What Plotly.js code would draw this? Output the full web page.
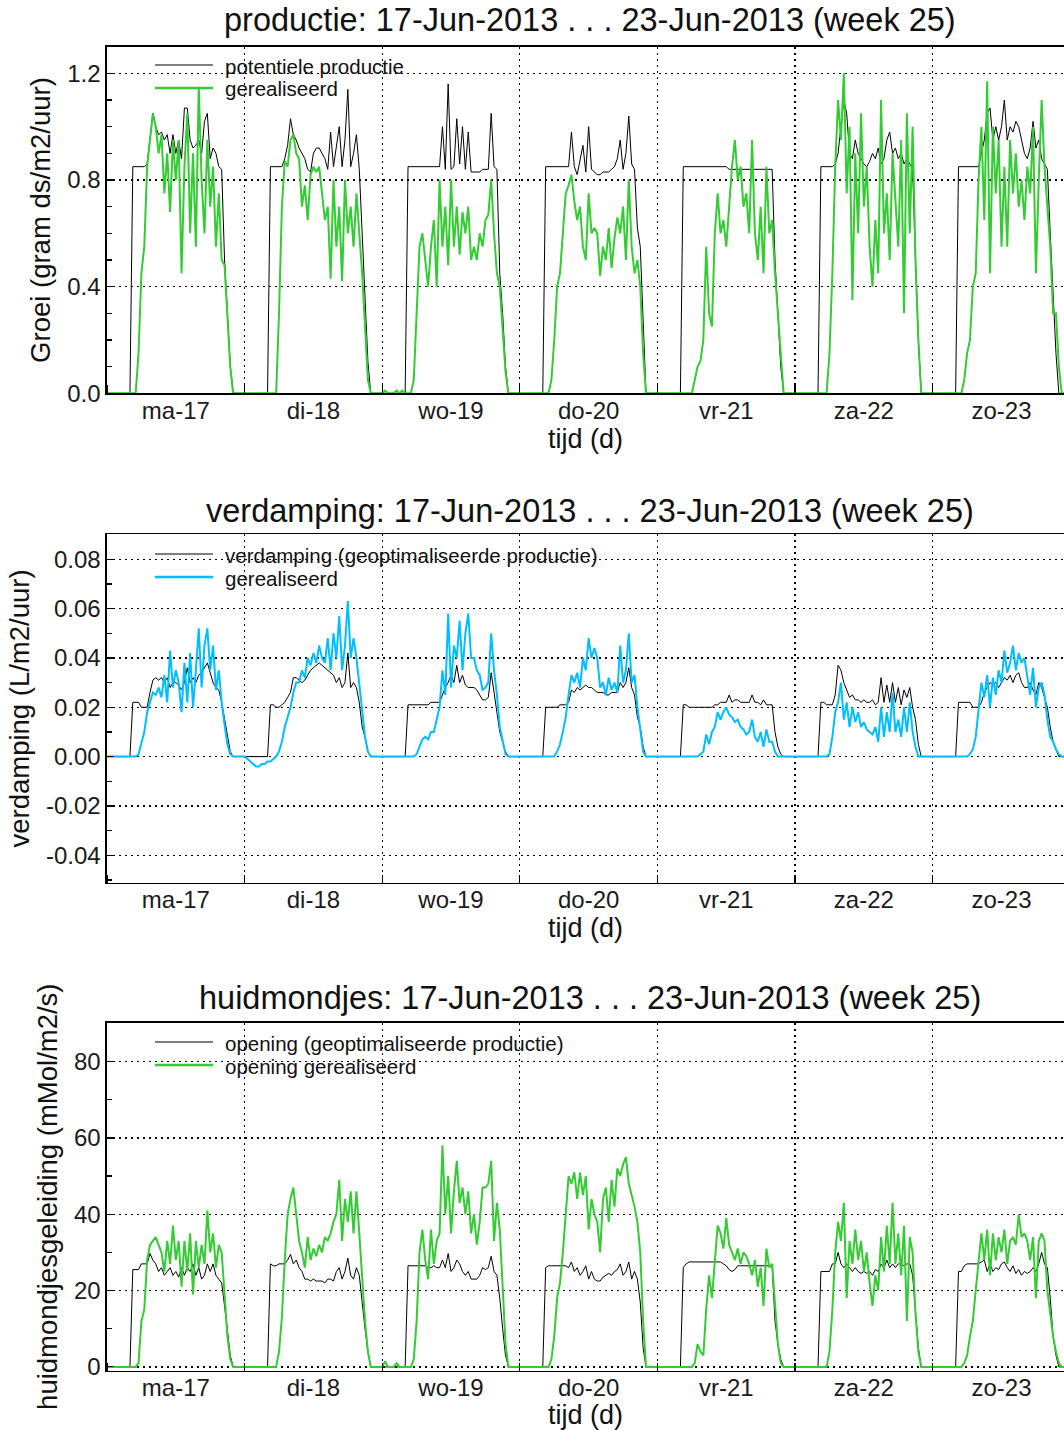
<!DOCTYPE html>
<html><head><meta charset="utf-8">
<script src="https://cdn.plot.ly/plotly-3.0.1.min.js"></script>
<style>html,body{margin:0;padding:0;background:#fff;overflow:hidden}#chart{width:1064px;height:1430px}</style>
</head><body><div id="chart"></div>
<script>
// Day labels (tick text at noon of each day) and their positions in hours
const dayLabels = ['ma-17','di-18','wo-19','do-20','vr-21','za-22','zo-23'];
const dayCentres = [12, 36, 60, 84, 108, 132, 156];

// Half-hourly values, 17-Jun-2013 00:00 ... 24-Jun-2013 00:00 (one line per day)
const groeiPotentieel = [
0,0,0,0,0,0,0,0,0,.85,.85,.85,.85,.85,.86,.95,1.05,1.0,.97,.98,.95,.97,.9,.97,.9,.95,.88,1.07,1.07,.95,.92,.93,.95,.9,1.02,1.05,.88,.92,.9,.85,.84,.5,.3,.1,0,0,0,0,
0,0,0,0,0,0,0,0,0,.85,.85,.85,.85,.85,.88,.93,1.03,.97,.95,.92,.9,.88,.84,.83,.9,.92,.92,.9,.88,.84,.98,.85,.92,1.0,.85,.95,1.14,.85,.9,.97,.84,.6,.35,.12,0,0,0,0,
0,0,0,0,0,0,0,0,0,.85,.85,.85,.85,.85,.85,.85,.85,.85,.85,.85,.85,1.0,.84,1.16,.84,.85,1.03,.86,1.0,.84,.98,.83,.83,.83,.83,.84,.84,.84,1.05,.85,.84,.45,.3,.1,0,0,0,0,
0,0,0,0,0,0,0,0,0,.85,.85,.85,.85,.85,.85,.85,.85,.85,.98,.85,.82,.88,.93,.83,1.0,.84,.83,.82,.82,.83,.83,.83,.84,.85,.88,.95,.84,.9,1.04,.86,.84,.62,.55,.3,0,0,0,0,
0,0,0,0,0,0,0,0,0,.85,.85,.85,.85,.85,.85,.85,.85,.85,.85,.85,.85,.85,.85,.85,.85,.84,.84,.84,.84,.84,.84,.84,.84,.84,.84,.84,.84,.84,.84,.84,.84,.5,.3,.1,0,0,0,0,
0,0,0,0,0,0,0,0,0,.85,.85,.85,.85,.85,.86,.9,1.0,1.1,1.05,.9,.88,.95,.9,.88,.86,.85,.87,.9,.88,.92,.86,.88,.95,.98,.9,.92,.88,.9,.86,.88,.86,.84,.5,.2,0,0,0,0,
0,0,0,0,0,0,0,0,0,.85,.85,.85,.85,.85,.85,.85,.85,.9,.95,1.05,1.07,.95,1.0,.95,1.0,1.1,.95,1.0,.98,1.02,1.0,.95,.9,.88,.92,1.02,.92,.95,.88,.86,.84,.6,.35,.15,0,0,0,0,
0];
const groeiGerealiseerd = [
0,0,0,0,0,0,0,0,0,0,0,.15,.45,.55,.85,.95,1.05,1.0,.9,.97,.75,.9,.68,.95,.8,.95,.45,.85,1.05,.6,.9,.55,1.15,.8,.6,.95,.7,.85,.55,.75,.5,.48,.3,.1,0,0,0,0,
0,0,0,0,0,0,0,0,0,0,0,0,.3,.7,.87,.85,.95,.97,.9,.88,.7,.78,.65,.82,.85,.83,.85,.75,.65,.7,.43,.8,.55,.7,.42,.8,.6,.7,.55,.75,.6,.45,.25,.05,0,0,0,0,
0,.01,0,0,0,.01,0,.01,0,0,0,.05,.3,.55,.6,.5,.4,.55,.65,.4,.8,.55,.7,.48,.8,.55,.7,.52,.68,.6,.7,.5,.55,.5,.6,.55,.65,.67,.8,.6,.45,.4,.25,.08,0,0,0,0,
0,0,0,0,0,0,0,0,0,0,0,.05,.2,.4,.45,.6,.75,.78,.82,.72,.65,.7,.55,.5,.75,.6,.62,.6,.44,.55,.5,.62,.47,.58,.66,.6,.7,.5,.8,.55,.45,.5,.4,.15,0,0,0,0,
0,0,0,0,0,0,0,0,0,0,0,0,0,.05,.1,.12,.2,.55,.3,.25,.6,.75,.6,.65,.55,.7,.85,.95,.8,.85,.7,.75,.6,.95,.6,.5,.7,.45,.85,.6,.65,.45,.3,.15,0,0,0,0,
0,0,0,0,0,0,0,0,0,0,0,0,.15,.45,.85,1.1,.95,1.2,.75,1.0,.35,.9,.6,1.05,.7,.85,.55,.4,.65,.45,1.1,.6,.75,.5,.9,.7,.55,.95,.3,1.05,.6,1.0,.5,.2,0,0,0,0,
0,0,0,0,0,0,0,0,0,0,0,.05,.15,.2,.4,.45,.8,1.0,.65,1.17,.45,1.0,.75,.95,.55,.85,.55,.95,.75,.9,.7,.8,.65,.85,.75,1.0,.45,.8,1.1,.85,.7,.55,.3,.3,.1,0,0,0,
0];
const verdampingOptimaal = [
0,0,0,0,0,0,0,0,0,.022,.022,.022,.02,.02,.02,.026,.031,.032,.031,.032,.03,.032,.028,.03,.03,.029,.027,.03,.036,.03,.032,.03,.033,.034,.036,.038,.034,.03,.028,.027,.022,.015,.008,.002,0,0,0,0,
0,0,0,0,0,0,0,0,0,.021,.021,.02,.02,.021,.022,.024,.026,.032,.032,.031,.03,.031,.033,.035,.036,.037,.038,.037,.036,.035,.034,.033,.03,.032,.028,.03,.042,.028,.03,.028,.022,.012,.008,.002,0,0,0,0,
0,0,0,0,0,0,0,0,0,.021,.021,.021,.021,.021,.021,.021,.021,.022,.022,.022,.022,.025,.028,.03,.033,.03,.037,.03,.033,.029,.028,.028,.028,.027,.025,.023,.023,.024,.034,.026,.018,.01,.006,.002,0,0,0,0,
0,0,0,0,0,0,0,0,0,.02,.02,.02,.02,.02,.021,.021,.021,.022,.027,.026,.028,.027,.028,.029,.028,.028,.027,.026,.026,.026,.025,.025,.026,.026,.026,.03,.028,.03,.036,.028,.025,.016,.012,.004,0,0,0,0,
0,0,0,0,0,0,0,0,0,.021,.021,.02,.02,.02,.02,.02,.02,.02,.02,.02,.021,.021,.022,.022,.022,.025,.022,.023,.023,.022,.022,.022,.022,.025,.022,.022,.021,.023,.021,.021,.021,.01,.004,.001,0,0,0,0,
0,0,0,0,0,0,0,0,0,.022,.022,.021,.021,.021,.025,.037,.035,.03,.027,.024,.025,.023,.023,.022,.023,.022,.022,.023,.021,.022,.032,.022,.029,.022,.03,.022,.028,.021,.027,.024,.028,.02,.015,.005,0,0,0,0,
0,0,0,0,0,0,0,0,0,.022,.022,.022,.022,.022,.02,.02,.02,.022,.026,.028,.03,.029,.03,.028,.03,.032,.031,.033,.03,.033,.034,.03,.028,.028,.03,.027,.025,.03,.028,.024,.02,.012,.006,.003,0,0,0,0,
0];
const verdampingGerealiseerd = [
0,0,0,0,0,0,0,0,0,0,0,.001,.005,.01,.018,.022,.026,.025,.028,.024,.033,.022,.043,.028,.035,.03,.018,.038,.022,.042,.02,.035,.052,.028,.045,.052,.035,.045,.027,.035,.022,.013,.005,.001,0,0,0,0,
0,-.001,-.002,-.003,-.004,-.004,-.003,-.003,-.002,-.002,-.001,0,.002,.006,.012,.016,.02,.026,.03,.03,.035,.032,.04,.037,.042,.038,.045,.04,.038,.048,.035,.05,.04,.057,.035,.045,.063,.04,.048,.04,.03,.018,.008,.002,0,0,0,0,
0,0,0,0,0,0,0,0,0,0,0,0,.001,.004,.007,.008,.007,.01,.01,.015,.02,.035,.025,.058,.028,.045,.04,.055,.035,.05,.058,.04,.04,.035,.033,.027,.028,.03,.05,.035,.025,.012,.006,.001,0,0,0,0,
0,0,0,0,0,0,0,0,0,0,0,0,0,.002,.005,.01,.016,.025,.033,.03,.034,.028,.04,.035,.048,.04,.044,.04,.028,.03,.025,.032,.027,.03,.026,.045,.03,.035,.05,.03,.033,.02,.012,.002,0,0,0,0,
0,0,0,0,0,0,0,0,0,0,0,0,0,0,0,.001,.002,.009,.005,.01,.012,.018,.015,.018,.02,.017,.016,.014,.015,.012,.011,.009,.01,.015,.008,.006,.01,.004,.011,.006,.006,.002,0,0,0,0,0,0,
0,0,0,0,0,0,0,0,0,0,0,0,.001,.008,.018,.022,.03,.015,.022,.012,.02,.014,.018,.012,.014,.011,.01,.009,.012,.006,.02,.008,.018,.01,.026,.01,.015,.008,.02,.01,.022,.01,.004,0,0,0,0,0,
0,0,0,0,0,0,0,0,0,0,0,0,0,.001,.003,.008,.02,.03,.024,.033,.02,.032,.025,.035,.03,.043,.034,.038,.045,.035,.042,.038,.04,.032,.025,.036,.02,.028,.03,.025,.015,.008,.006,.003,.001,0,0,0,
0];
const geleidingOptimaal = [
0,0,0,0,0,0,0,0,0,25.5,25.5,25.5,27,27,27,29.7,28,27,25,26,24,25,26,24,25,23.5,26,24,26,25,27,24,26,23,24,27,25,27,24,23,22,16,9,3,0,0,0,0,
0,0,0,0,0,0,0,0,0,27,26.5,26.5,27,27,27,28,29.5,27,28,26,25,23,23,22.5,23,22.5,22.5,22.5,22,23,23,22.5,25,26,23,25,28.5,24,23,26,24,16,10,4,0,0,0,0,
0,0,0,0,0,0,0,0,0,26.5,26.5,26.5,26.5,26.5,26.5,26.5,26,26,26.5,26,26,28,26,29.7,25,26,28,27,25,24,25,23,23,23,24,26,25.5,26,29,25,24,18,10,3,0,0,0,0,
0,0,0,0,0,0,0,0,0,26,26.5,26.5,26.5,26.5,26.5,26.5,26.5,26,27.5,25,26,24,25,26.5,23,25,23,22.5,22.5,23.5,24,24.5,24,25,25.5,27,24,25,27.5,23,25,23,17,5,0,0,0,0,
0,0,0,0,0,0,0,0,0,26,27,27.5,27.5,27.5,27.5,27.5,27.5,27.5,27.5,27.5,27.5,27.5,27.5,27,26.5,25.5,25,25.5,26.5,26.5,26.5,26.5,26.5,26.5,26.5,26.5,26.5,26.5,26.5,26.5,26.5,12,6,2,0,0,0,0,
0,0,0,0,0,0,0,0,0,25,25,25,25,27,27,30,27,26,27,26,25,26,25,24.5,25,24.5,25,24,25.5,25,27,26,28,26,27,26,27,27,26.5,27,27,24,15,5,0,0,0,0,
0,0,0,0,0,0,0,0,0,25,25,26.5,27,27,27,27,27,27.5,28,25,27,25,26,25.5,27,27.5,26,25,26.5,24.5,25.5,24,25,24.5,25,26,25,27,30,27,26,18,8,3,0,0,0,0,
0];
const geleidingGerealiseerd = [
0,0,0,0,0,0,0,0,0,0,0,1,12,15,28,32,33,34,32,30,25,33,27,37,28,33,21,33,25,35,19,33,26,32,27,41,30,35,26,32,30,18,8,2,0,0,0,0,
0,0,0,0,0,0,0,0,0,0,0,0,4,13,28,40,44,47,40,33,30,26,34,28,31,29,32,30,34,33,35,38,40,49,33,44,38,46,35,46,35,23,12,4,0,0,0,0,
0,1.5,0,0,0,1,0,0,0,0,0,2,12,30,36,28,23,36,27,33,35,58,40,50,35,46,54,43,47,40,46,35,40,32,38,47,47,48,54,33,43,36,20,6,0,0,0,0,
0,0,0,0,0,0,0,0,0,0,0,2,8,18,22,30,40,50,48,51,44,51,45,50,36,44,40,38,30,44,47,38,49,42,52,50,53,55,48,45,42,38,30,12,0,0,0,0,
0,0,0,0,0,0,0,0,0,0,0,0,0,1,6,4,3,15,24,18,28,37,35,31,39,32,30,28,31,27,30,29,27,24,28,21,26,16,31,26,27,15,6,1,0,0,0,0,
0,0,0,0,0,0,0,0,0,0,0,0,4,15,30,38,33,43,18,33,27,36,28,33,25,30,22,16,24,20,34,25,37,27,43,27,35,24,37,12,34,30,14,4,0,0,0,0,
0,0,0,0,0,0,0,0,0,0,0,1,3,8,12,20,27,35,28,36,24,35,28,34,30,36,27,33,34,32,40,34,35,33,28,34,18,33,35,33,20,14,8,4,1,0,0,0,
0];
const verdampingTicks = [-0.04, -0.02, 0, 0.02, 0.04, 0.06, 0.08];
const verdampingTickText = ['-0.04', '-0.02', '0.00', '0.02', '0.04', '0.06', '0.08'];

// time axis in hours since 17-Jun-2013 00:00 (one sample each half hour)
const tijd = groeiPotentieel.map((_, i) => i * 0.5);

const FONT = 'Liberation Sans, Arial, Helvetica, sans-serif';
const GREEN = '#33cc33', BLUE = '#00bfff', BLACK = '#000000';
const GRIDDASH = '2px,4px';
const H = 1430, W = 1064, ML = 107;
const px = v => (v - ML) / (W - ML);   // page x pixel -> paper
const py = v => 1 - v / H;             // page y pixel -> paper

function line(y, name, color, width, xa, ya) {
  return {x: tijd, y: y, name: name, type: 'scatter', mode: 'lines',
    line: {color: color, width: width}, xaxis: xa, yaxis: ya, showlegend: false,
    hoverinfo: 'x+y'};
}
const series = [
  [groeiPotentieel, 'potentiele productie', BLACK, 1, 'x', 'y'],
  [groeiGerealiseerd, 'gerealiseerd', GREEN, 2, 'x', 'y'],
  [verdampingOptimaal, 'verdamping (geoptimaliseerde productie)', BLACK, 1, 'x2', 'y2'],
  [verdampingGerealiseerd, 'gerealiseerd', BLUE, 2, 'x2', 'y2'],
  [geleidingOptimaal, 'opening (geoptimaliseerde productie)', BLACK, 1, 'x3', 'y3'],
  [geleidingGerealiseerd, 'opening gerealiseerd', GREEN, 2, 'x3', 'y3']
];
const data = series.map(s => line(...s));

// legend rows (page y of each row, in the order of the series)
const legendRowY = [66, 89, 555, 578, 1043, 1066];
const shapes = [], annotations = [];
series.forEach((s, i) => {
  shapes.push({type: 'line', xref: 'paper', yref: 'paper', x0: px(155), x1: px(213),
    y0: py(legendRowY[i] - 1), y1: py(legendRowY[i] - 1), line: {color: s[2], width: s[3] === 1 ? 1 : 2.5}});
  annotations.push({text: s[1], xref: 'paper', yref: 'paper', x: px(223), y: py(legendRowY[i]),
    xanchor: 'left', yanchor: 'middle', showarrow: false,
    font: {family: FONT, size: 20.5, color: '#111'}});
});

function xAxis(anchor) {
  return {anchor: anchor, domain: [0, 1], range: [0, 166.9],
    tickmode: 'array', tickvals: dayCentres, ticktext: dayLabels, ticks: '',
    ticklabelstandoff: -5,
    showgrid: false, zeroline: false,
    minor: {tick0: 0, dtick: 24, showgrid: true, gridcolor: BLACK, griddash: GRIDDASH, gridwidth: 1.3,
            ticks: 'inside', ticklen: 8, tickcolor: BLACK, tickwidth: 1.2},
    showline: true, linecolor: BLACK, linewidth: 1.6, mirror: true,
    tickfont: {family: FONT, size: 24, color: '#1a1a1a'},
    title: {text: 'tijd (d)', font: {family: FONT, size: 27, color: '#111'}, standoff: 4}};
}
function yAxis(anchor, domain, title, extra) {
  return Object.assign({anchor: anchor, domain: domain, zeroline: false,
    showgrid: true, gridcolor: BLACK, griddash: GRIDDASH, gridwidth: 1.3,
    ticks: 'inside', ticklen: 7, tickcolor: BLACK, tickwidth: 1.2,
    showline: true, linecolor: BLACK, linewidth: 1.6, mirror: false,
    tickfont: {family: FONT, size: 24, color: '#1a1a1a'},
    title: {text: title, font: {family: FONT, size: 27.5, color: '#111'}, standoff: 8}}, extra);
}
function titleAt(text, y) {
  return {text: text, xref: 'paper', yref: 'paper', x: px(590), y: py(y), xanchor: 'center', yanchor: 'middle',
    showarrow: false, font: {family: FONT, size: 32.5, color: '#111'}};
}
annotations.push(
  titleAt('productie: 17-Jun-2013 . . . 23-Jun-2013 (week 25)', 20),
  titleAt('verdamping: 17-Jun-2013 . . . 23-Jun-2013 (week 25)', 511),
  titleAt('huidmondjes: 17-Jun-2013 . . . 23-Jun-2013 (week 25)', 998)
);

const layout = {
  width: W, height: H, margin: {l: ML, r: 0, t: 0, b: 0},
  paper_bgcolor: '#fff', plot_bgcolor: '#fff', font: {family: FONT, color: '#111'},
  showlegend: false,
  xaxis: xAxis('y'), xaxis2: xAxis('y2'), xaxis3: xAxis('y3'),
  yaxis: yAxis('x', [py(393.3), py(46.7)], 'Groei (gram ds/m2/uur)',
    {range: [0, 1.3], tick0: 0, dtick: 0.4, tickformat: '.1f', minor: {dtick: 0.1, ticks: 'inside', ticklen: 5, tickcolor: BLACK}}),
  yaxis2: yAxis('x2', [py(882.7), py(534.3)], 'verdamping (L/m2/uur)',
    {range: [-0.0511, 0.0901], tickmode: 'array', tickvals: verdampingTicks, ticktext: verdampingTickText,
     minor: {tick0: 0, dtick: 0.01, ticks: 'inside', ticklen: 5, tickcolor: BLACK}}),
  yaxis3: yAxis('x3', [py(1370.7), py(1022.7)], 'huidmondjesgeleiding (mMol/m2/s)',
    {range: [-1, 90.2], tick0: 0, dtick: 20, minor: {dtick: 10, ticks: 'inside', ticklen: 5, tickcolor: BLACK}}),
  shapes: shapes,
  annotations: annotations
};
Plotly.newPlot('chart', data, layout, {displayModeBar: false, staticPlot: true});
</script></body></html>
